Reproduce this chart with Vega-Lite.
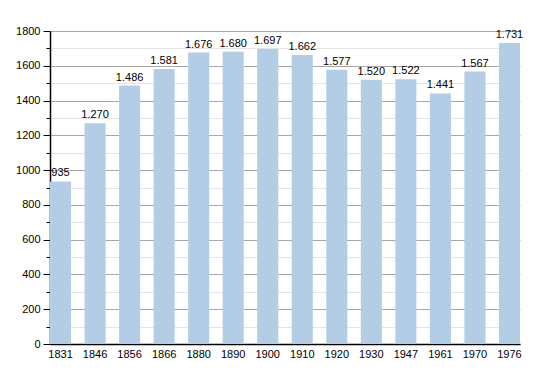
{
  "$schema": "https://vega.github.io/schema/vega-lite/v6.json",
  "width": 470,
  "height": 313,
  "autosize": {"type": "none"},
  "padding": {"left": 50, "top": 31, "right": 30, "bottom": 29},
  "background": "white",
  "config": {
    "view": {"stroke": null},
    "locale": {"number": {"decimal": ",", "thousands": ".", "grouping": [3], "currency": ["", " €"]}},
    "font": "Liberation Sans"
  },
  "data": {
    "values": [
      {"year": "1831", "pop": 935},
      {"year": "1846", "pop": 1270},
      {"year": "1856", "pop": 1486},
      {"year": "1866", "pop": 1581},
      {"year": "1880", "pop": 1676},
      {"year": "1890", "pop": 1680},
      {"year": "1900", "pop": 1697},
      {"year": "1910", "pop": 1662},
      {"year": "1920", "pop": 1577},
      {"year": "1930", "pop": 1520},
      {"year": "1947", "pop": 1522},
      {"year": "1961", "pop": 1441},
      {"year": "1970", "pop": 1567},
      {"year": "1976", "pop": 1731}
    ]
  },
  "encoding": {
    "x": {
      "field": "year",
      "type": "ordinal",
      "sort": null,
      "scale": {"paddingInner": 0.39, "paddingOuter": 0},
      "axis": {
        "title": null,
        "labelAngle": 0,
        "ticks": false,
        "domainColor": "#000000",
        "domainWidth": 1.5,
        "labelColor": "#000000",
        "labelFontSize": 11,
        "labelFont": "Liberation Sans",
        "labelPadding": 4,
        "grid": false
      }
    },
    "y": {
      "field": "pop",
      "type": "quantitative",
      "scale": {"domain": [0, 1800], "nice": false},
      "axis": {
        "title": null,
        "values": [0, 100, 200, 300, 400, 500, 600, 700, 800, 900, 1000, 1100, 1200, 1300, 1400, 1500, 1600, 1700, 1800],
        "format": "d",
        "labelExpr": "datum.value % 200 === 0 ? datum.label : ''",
        "grid": true,
        "gridColor": {"condition": {"test": "datum.value % 200 === 0", "value": "#a8a8a8"}, "value": "#e4e4e4"},
        "gridWidth": 1,
        "tickColor": "#000000",
        "tickSize": {"condition": {"test": "datum.value % 200 === 0", "value": 7}, "value": 4},
        "domainColor": "#000000",
        "domainWidth": 1.5,
        "labelColor": "#000000",
        "labelFontSize": 11,
        "labelFont": "Liberation Sans",
        "labelPadding": 3
      }
    }
  },
  "layer": [
    {"mark": {"type": "bar", "color": "#b3cde6"}},
    {
      "mark": {"type": "text", "baseline": "bottom", "dy": -3, "fontSize": 11, "font": "Liberation Sans", "color": "#000000"},
      "encoding": {"text": {"field": "pop", "type": "quantitative", "format": ",d"}}
    }
  ]
}
